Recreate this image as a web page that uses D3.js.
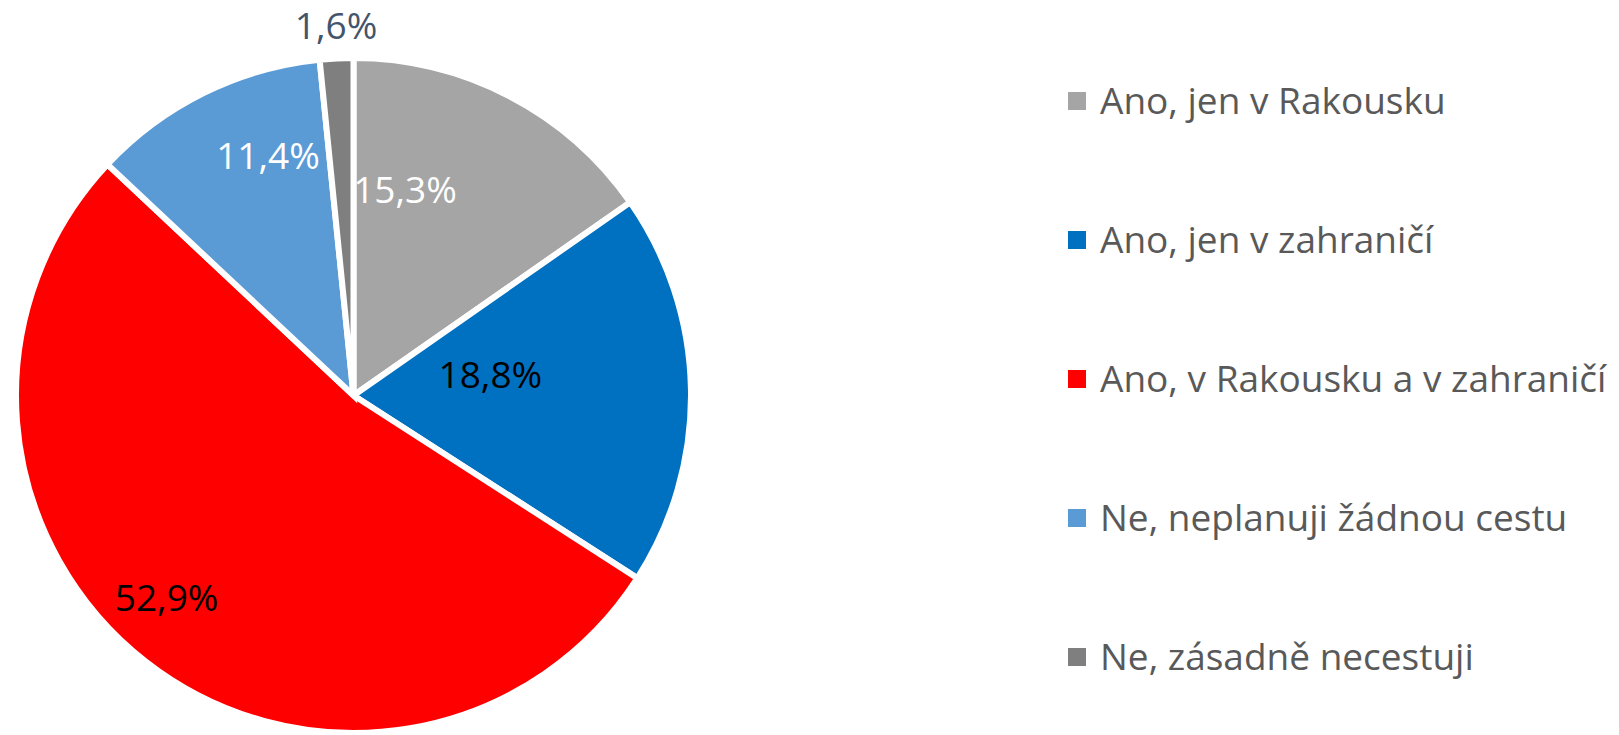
<!DOCTYPE html>
<html><head><meta charset="utf-8">
<script src="https://cdn.jsdelivr.net/npm/d3@7"></script>
<style>html,body{margin:0;padding:0;background:#fff;overflow:hidden}</style>
</head><body>
<svg id="c" width="1619" height="735"></svg>
<script>
const categories = ["Ano, jen v Rakousku","Ano, jen v zahraničí","Ano, v Rakousku a v zahraničí","Ne, neplanuji žádnou cestu","Ne, zásadně necestuji"];
const values = [15.3, 18.8, 52.9, 11.4, 1.6];
const labels = ["15,3%","18,8%","52,9%","11,4%","1,6%"];
const colors = ["#A5A5A5","#0070C0","#FF0000","#5B9BD5","#7F7F7F"];
const labelColors = ["#FFFFFF","#000000","#000000","#FFFFFF","#44546A"];
// label placement: angle (deg, clockwise from 12 o'clock) and radius fraction
const labelAngles = [14, 81.5, 222.8, 340.4, 357.3];
const labelRadii = [0.63, 0.41, 0.815, 0.755, 1.097];

const svg = d3.select("#c");
const cx = 353.5, cy = 395.5, R = 337.5;
const font = "'Open Sans', sans-serif";
const fs = 37;

const pie = d3.pie().sort(null).value(d => d)(values);
const arc = d3.arc().innerRadius(0).outerRadius(R);
const g = svg.append("g").attr("transform", `translate(${cx},${cy})`);
g.selectAll("path").data(pie).join("path")
  .attr("d", arc).attr("fill", (d,i) => colors[i])
  .attr("stroke", "#fff").attr("stroke-width", 6).attr("stroke-linejoin","miter");

g.selectAll("text.lbl").data(pie).join("text").attr("class","lbl")
  .attr("x", (d,i) => Math.sin(labelAngles[i]*Math.PI/180)*R*labelRadii[i])
  .attr("y", (d,i) => -Math.cos(labelAngles[i]*Math.PI/180)*R*labelRadii[i])
  .attr("dy", "0.36em")
  .attr("text-anchor","middle")
  .attr("font-family", font).attr("font-size", fs)
  .attr("fill", (d,i) => labelColors[i])
  .text((d,i) => labels[i]);

const legY = d3.scalePoint().domain(categories).range([101, 657]);
const leg = svg.append("g");
const items = leg.selectAll("g").data(categories).join("g")
  .attr("transform", d => `translate(1068,${legY(d)})`);
items.append("rect").attr("x",0).attr("y",-9).attr("width",18).attr("height",18)
  .attr("fill",(d,i)=>colors[i]);
items.append("text").attr("x",32).attr("y",0).attr("dy","0.36em")
  .attr("font-family", font).attr("font-size", fs).attr("fill","#595959")
  .text(d => d);
</script>
</body></html>
